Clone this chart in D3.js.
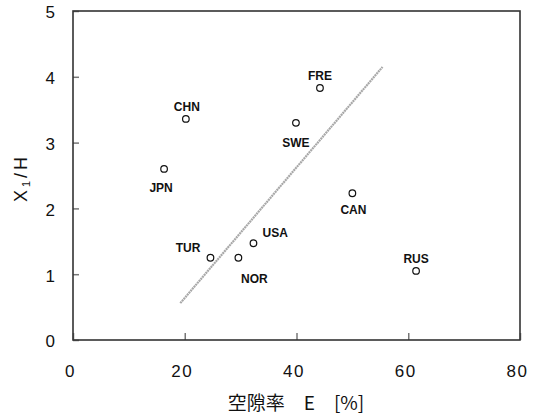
<!DOCTYPE html>
<html>
<head>
<meta charset="utf-8">
<script src="https://cdn.jsdelivr.net/npm/d3@7"></script>
<style>
  html, body { margin: 0; padding: 0; background: #fff; }
  svg { display: block; }
  text { font-family: "Liberation Sans", Arial, sans-serif; fill: #111; }
</style>
</head>
<body>
<svg id="chart" width="537" height="419"></svg>
<script>
// Country codes with porosity E [%] and X1/H
const countries = ["FRE", "CHN", "SWE", "JPN", "CAN", "USA", "TUR", "NOR", "RUS"];
const porosity  = [44.2, 20.2, 39.9, 16.3, 50.0, 32.3, 24.6, 29.6, 61.4];
const ratioX1H  = [3.83, 3.36, 3.30, 2.60, 2.23, 1.47, 1.25, 1.25, 1.05];

// Trend line end points
const trendE = [19.2, 55.4];
const trendR = [0.56, 4.15];

// Axis ticks
const xTicks = [0, 20, 40, 60, 80];
const yTicks = [0, 1, 2, 3, 4, 5];

// Label placement around each marker (px): [dx, dy, anchor]
const labelPlacement = [
  [0, -8, "middle"],   // FRE
  [1, -8, "middle"],   // CHN
  [0, 24, "middle"],   // SWE
  [-3, 23, "middle"],  // JPN
  [1, 21, "middle"],   // CAN
  [9, -6, "start"],    // USA
  [-10, -6, "end"],    // TUR
  [16, 25, "middle"],  // NOR
  [0, -8, "middle"]    // RUS
];

const svg = d3.select("#chart");
const plotL = 73, plotR = 520, plotT = 11, plotB = 340;

const x = d3.scaleLinear().domain([0, 80]).range([plotL, plotR]);
const y = d3.scaleLinear().domain([0, 5]).range([plotB, plotT]);

// Bottom axis, ticks pointing inward
const gx = svg.append("g")
  .attr("transform", `translate(0,${plotB})`)
  .call(d3.axisBottom(x).tickValues(xTicks).tickFormat(d3.format("d"))
    .tickSizeInner(-7).tickSizeOuter(0).tickPadding(25));
gx.select(".domain").remove();
gx.selectAll(".tick line").attr("stroke", "#777").attr("stroke-width", 1.5);
gx.selectAll(".tick text")
  .attr("font-size", 17).attr("fill", "#111").attr("dx", -3)
  .attr("letter-spacing", 1.5)
  .style("font-family", "'Liberation Sans', Arial, sans-serif");

// Left axis, ticks pointing inward
const gy = svg.append("g")
  .attr("transform", `translate(${plotL},0)`)
  .call(d3.axisLeft(y).tickValues(yTicks).tickFormat(d3.format("d"))
    .tickSizeInner(-6).tickSizeOuter(0).tickPadding(18));
gy.select(".domain").remove();
gy.selectAll(".tick line").attr("stroke", "#777").attr("stroke-width", 1.5);
gy.selectAll(".tick text")
  .attr("font-size", 17).attr("fill", "#111").attr("dy", "0.4em")
  .style("font-family", "'Liberation Sans', Arial, sans-serif");

// Plot frame
svg.append("rect")
  .attr("x", plotL).attr("y", plotT)
  .attr("width", plotR - plotL).attr("height", plotB - plotT)
  .attr("fill", "none").attr("stroke", "#333").attr("stroke-width", 1.6);

// Trend line (stippled grey)
svg.append("path")
  .datum(trendE.map((e, i) => [e, trendR[i]]))
  .attr("d", d3.line().x(d => x(d[0])).y(d => y(d[1])))
  .attr("fill", "none")
  .attr("stroke", "#a8a8a8")
  .attr("stroke-width", 2.2)
  .attr("stroke-dasharray", "2 0.6");

// Markers
const pts = countries.map((c, i) => ({ c, e: porosity[i], r: ratioX1H[i], p: labelPlacement[i] }));
svg.append("g").selectAll("circle").data(pts).join("circle")
  .attr("cx", d => x(d.e)).attr("cy", d => y(d.r))
  .attr("r", 3.3)
  .attr("fill", "#fff").attr("stroke", "#111").attr("stroke-width", 1.2);

// Country labels
svg.append("g").selectAll("text").data(pts).join("text")
  .attr("x", d => x(d.e) + d.p[0])
  .attr("y", d => y(d.r) + d.p[1])
  .attr("text-anchor", d => d.p[2])
  .attr("font-size", 12)
  .attr("font-weight", "bold")
  .attr("fill", "#222")
  .text(d => d.c);

// Y axis title: X1/H
const yt = svg.append("text")
  .attr("transform", "translate(27,178) rotate(-90)")
  .attr("text-anchor", "middle")
  .attr("font-size", 18)
  .attr("letter-spacing", 3);
yt.append("tspan").text("X");
yt.append("tspan").attr("font-size", 11).attr("dy", 3).text("1");
yt.append("tspan").attr("dy", -3).text("/H");

// X axis title
svg.append("text")
  .attr("x", 296).attr("y", 410)
  .attr("text-anchor", "middle")
  .attr("font-size", 19)
  .style("font-family", "'Noto Sans CJK JP', sans-serif")
  .text("空隙率　E　[%]");
</script>
</body>
</html>
